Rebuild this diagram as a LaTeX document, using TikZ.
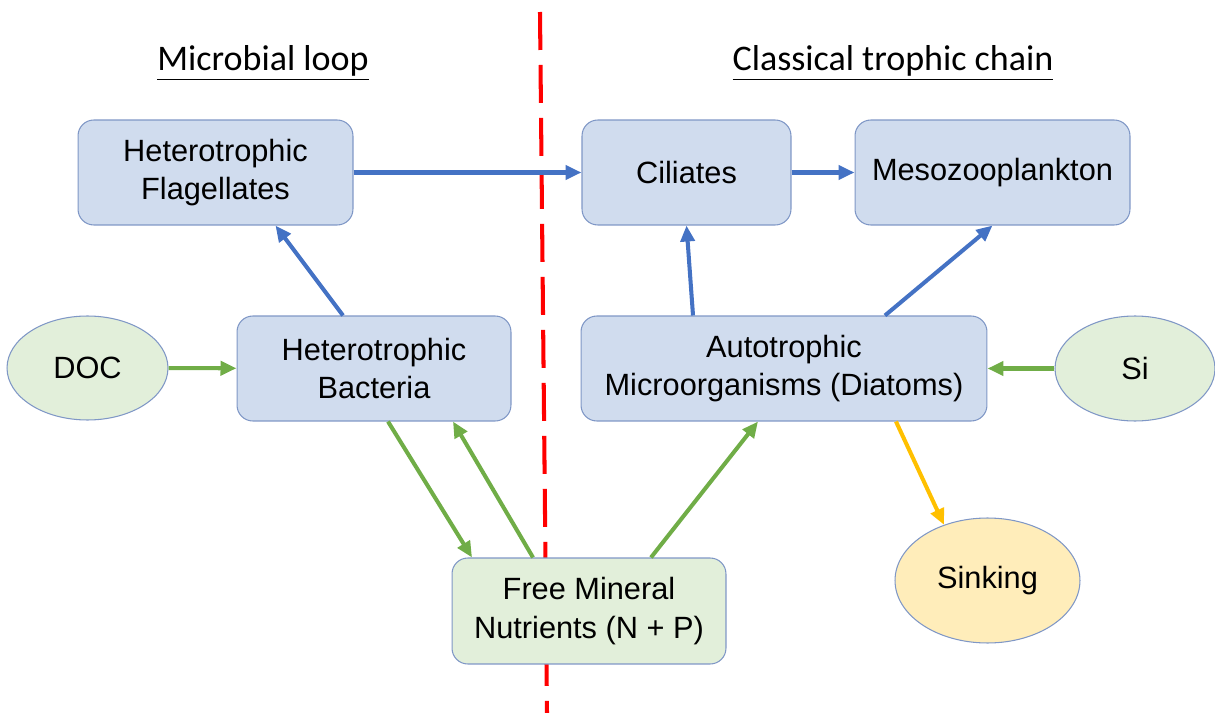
\documentclass[tikz,border=0pt]{standalone}
\usepackage{fontspec}
\setmainfont{Liberation Sans}
\newfontfamily\titlefont{Carlito}
\usepackage{xcolor}
\usetikzlibrary{arrows.meta,positioning,shapes.geometric}
\definecolor{boxblue}{HTML}{D0DCEE}
\definecolor{boxgreen}{HTML}{E2EFDA}
\definecolor{boxyellow}{HTML}{FFEDBA}
\definecolor{edgeblue}{HTML}{7F97C6}
\definecolor{arrblue}{HTML}{4472C4}
\definecolor{arrgreen}{HTML}{70AD47}
\definecolor{arryellow}{HTML}{FFC000}

\begin{document}
\begin{tikzpicture}[
  x=0.02cm, y=-0.02cm,
  box/.style={draw=edgeblue, line width=0.6pt, rounded corners=9pt, align=center, inner sep=0pt, minimum height=2.1cm, font=\fontsize{17.5}{22}\selectfont, fill=boxblue},
  nutr/.style={box, fill=boxgreen},
  blob/.style={draw=edgeblue, line width=0.6pt, ellipse, inner sep=0pt, align=center, font=\fontsize{17.5}{22}\selectfont, fill=boxgreen},
  heading/.style={font=\titlefont\fontsize{20.5}{24}\selectfont},
  flow/.style={-{Triangle[length=3.2mm,width=2.8mm]}, line width=2.3pt, draw=arrblue},
  feed/.style={flow, draw=arrgreen},
  sinkflow/.style={flow, draw=arryellow}
]
\useasboundingbox (0,0) rectangle (1215,713);

\node[heading] (loop) at (263,63) {\underline{Microbial loop}};
\node[heading] (chain) at (893,63) {\underline{Classical trophic chain}};

\coordinate (cuttop) at (540,12);
\coordinate (cutbot) at (547,713);
\draw[red, line width=2.3pt, dash pattern=on 0.76cm off 0.3cm] (cuttop) -- (cutbot);

\node[box, minimum width=5.5cm] (flag) at (215.5,172.5) {Heterotrophic\\Flagellates};
\node[box, minimum width=4.18cm] (cil) at (686.5,172.5) {Ciliates};
\node[box, minimum width=5.5cm] (meso) at (992.5,172.5) {Mesozooplankton};
\node[blob, minimum width=3.22cm, minimum height=2.08cm] (doc) at (87.5,368) {DOC};
\node[box, minimum width=5.48cm] (bact) at (374,368.5) {Heterotrophic\\Bacteria};
\node[box, minimum width=8.12cm] (auto) at (784,368.5) {Autotrophic\\Microorganisms (Diatoms)};
\node[blob, minimum width=3.2cm, minimum height=2.1cm] (si) at (1135,368.5) {Si};
\node[nutr, minimum width=5.48cm, minimum height=2.12cm] (free) at (589,611) {Free Mineral\\Nutrients (N + P)};
\node[blob, fill=boxyellow, minimum width=3.7cm, minimum height=2.5cm] (sink) at (987.5,580.5) {Sinking};

\draw[flow] (flag) -- (cil);
\draw[flow] (cil) -- (meso);
\draw[flow] ([xshift=-0.62cm]bact.north) -- ([xshift=1.2cm]flag.south);
\draw[flow] ([xshift=-1.82cm]auto.north) -- (cil.south);
\draw[flow] ([xshift=2.02cm]auto.north) -- (meso.south);
\draw[feed] (doc) -- (bact);
\draw[feed] (si) -- (auto);
\draw[feed] ([xshift=0.28cm]bact.south) -- ([xshift=-2.34cm]free.north);
\draw[feed] ([xshift=-1.12cm]free.north) -- ([xshift=1.58cm]bact.south);
\draw[feed] ([xshift=1.24cm]free.north) -- ([xshift=-0.52cm]auto.south);
\draw[sinkflow] ([xshift=2.24cm]auto.south) -- (sink.128);
\end{tikzpicture}
\end{document}
